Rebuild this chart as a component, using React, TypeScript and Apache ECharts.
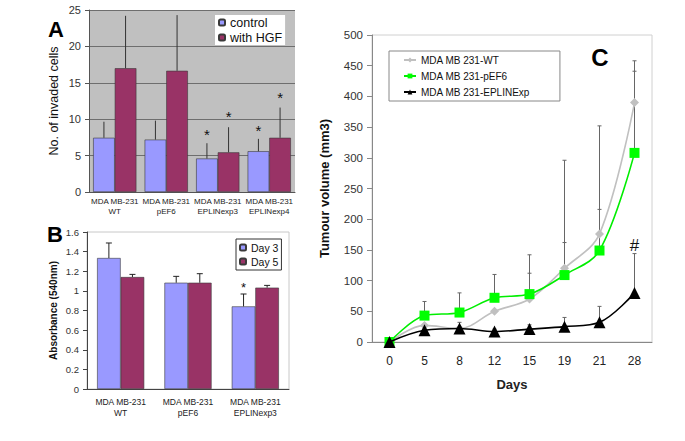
import React, { useEffect, useRef } from "react";
import * as echarts from "echarts";

// ---------- Panel A: invasion ----------
const aCategories = ["MDA MB-231\nWT", "MDA MB-231\npEF6", "MDA MB-231\nEPLINexp3", "MDA MB-231\nEPLINexp4"];
const aControl = [7.45, 7.2, 4.6, 5.6];
const aControlTop = [9.65, 9.8, 6.7, 7.3];
const aHGF = [17.0, 16.65, 5.45, 7.45];
const aHGFTop = [24.2, 24.3, 8.9, 11.6];
const aControlMarks = ["", "", "*", "*"];
const aHGFMarks = ["", "", "*", "*"];

// ---------- Panel B: absorbance ----------
const bCategories = ["MDA MB-231\nWT", "MDA MB-231\npEF6", "MDA MB-231\nEPLINexp3"];
const bDay3 = [1.335, 1.083, 0.842];
const bDay3Top = [1.488, 1.148, 0.968];
const bDay5 = [1.141, 1.083, 1.033];
const bDay5Top = [1.168, 1.175, 1.056];
const bDay3Marks = ["", "", "*"];

// ---------- Panel C: tumour volume ----------
const cDays = ["0", "5", "8", "12", "15", "19", "21", "28"];
const cWT = [0, 27, 22, 50, 70, 120, 176, 390];
const cWTTop = [null, null, null, null, 142, 296, 352, 458];
const cPEF6 = [0, 43, 48, 72, 78, 109, 149, 308];
const cPEF6Top = [null, 66, 80, 110, 112, 162, 216, 441];
const cEPLIN = [0, 19, 22, 17, 21, 25, 32, 80];
const cEPLINTop = [null, 26, 32, 21, 28, 40, 58, 144];
const cEPLINMarks = ["", "", "", "", "", "", "", "#"];

const FONT = "'Liberation Sans', Arial, sans-serif";

function errorBars(
  xi: number,
  yi: number,
  means: number[],
  tops: (number | null)[],
  offset: number,
  cap: number,
  color: string,
  marks: string[] | null,
  markSize: number,
  markGap: number
) {
  const data: number[][] = [];
  means.forEach((m, i) => {
    const t = tops[i];
    if (t !== null && t !== undefined) data.push([i, m, t]);
  });
  return {
    type: "custom",
    xAxisIndex: xi,
    yAxisIndex: yi,
    z: 5,
    silent: true,
    encode: { x: 0, y: [1, 2] },
    data,
    renderItem: (params: any, api: any) => {
      const i = api.value(0);
      const base = api.coord([i, api.value(1)]);
      const top = api.coord([i, api.value(2)]);
      const bw = api.size([1, 0])[0];
      const x = base[0] + offset * bw;
      const children: any[] = [
        {
          type: "line",
          shape: { x1: x, y1: base[1], x2: x, y2: top[1] },
          style: { stroke: color, lineWidth: 1 },
        },
      ];
      if (cap > 0) {
        children.push({
          type: "line",
          shape: { x1: x - cap, y1: top[1], x2: x + cap, y2: top[1] },
          style: { stroke: color, lineWidth: 1 },
        });
      }
      const mk = marks ? marks[i] : "";
      if (mk) {
        children.push({
          type: "text",
          style: {
            text: mk,
            x,
            y: top[1] - markGap,
            align: "center",
            verticalAlign: "bottom",
            fontSize: markSize,
            fontFamily: FONT,
            fill: "#111",
          },
        });
      }
      return { type: "group", children };
    },
  };
}

export default function App() {
  const ref = useRef<HTMLDivElement>(null);
  useEffect(() => {
    if (!ref.current) return;
    const chart = echarts.init(ref.current, undefined, { renderer: "svg" });
    const barBorder = { borderColor: "#3a3a3a", borderWidth: 0.6 };
    const option: any = {
      animation: false,
      backgroundColor: "#ffffff",
      textStyle: { fontFamily: FONT },
      grid: [
        { left: 89, top: 10, width: 206, height: 182, show: true, backgroundColor: "#c0c0c0", borderWidth: 0 },
        { left: 87, top: 232, width: 202, height: 157, show: true, borderColor: "#c8c8c8", borderWidth: 1 },
        { left: 372, top: 35, width: 280, height: 307, show: true, borderColor: "#d0d0d0", borderWidth: 1 },
      ],
      legend: [
        {
          data: ["control", "with HGF"],
          orient: "vertical",
          left: 215,
          top: 15,
          padding: [1, 3],
          itemGap: 2,
          itemWidth: 6,
          itemHeight: 6,
          backgroundColor: "#ffffff",
          textStyle: { fontSize: 12.5, color: "#111", fontFamily: FONT },
        },
        {
          data: ["Day 3", "Day 5"],
          orient: "vertical",
          left: 236,
          top: 239,
          padding: [3, 3, 3, 3],
          itemGap: 3,
          itemWidth: 6,
          itemHeight: 6,
          borderColor: "#333",
          borderWidth: 1,
          textStyle: { fontSize: 10.5, color: "#111", fontFamily: FONT },
        },
        {
          data: ["MDA MB 231-WT", "MDA MB 231-pEF6", "MDA MB 231-EPLINExp"],
          orient: "vertical",
          left: 389,
          top: 51,
          padding: [4, 30, 4, 14],
          itemGap: 6,
          itemWidth: 12,
          itemHeight: 6,
          borderColor: "#888",
          borderWidth: 1,
          textStyle: { fontSize: 10, color: "#111", fontFamily: FONT },
        },
      ],
      xAxis: [
        {
          type: "category",
          gridIndex: 0,
          data: aCategories,
          axisLine: { lineStyle: { color: "#555" } },
          axisTick: { length: 4, lineStyle: { color: "#555" } },
          axisLabel: { interval: 0, fontSize: 8, lineHeight: 9.5, margin: 5, color: "#222", fontFamily: FONT },
        },
        {
          type: "category",
          gridIndex: 1,
          data: bCategories,
          axisLine: { lineStyle: { color: "#444" } },
          axisTick: { length: 4, lineStyle: { color: "#444" } },
          axisLabel: { interval: 0, fontSize: 8.5, lineHeight: 10.5, margin: 8, color: "#222", fontFamily: FONT },
        },
        {
          type: "category",
          gridIndex: 2,
          data: cDays,
          name: "Days",
          nameLocation: "middle",
          nameGap: 36,
          nameTextStyle: { fontSize: 13, fontWeight: "bold", color: "#222" },
          axisLine: { lineStyle: { color: "#888" } },
          axisTick: { length: 5, lineStyle: { color: "#888" } },
          axisLabel: { interval: 0, fontSize: 12, margin: 13, color: "#222" },
        },
      ],
      yAxis: [
        {
          type: "value",
          gridIndex: 0,
          min: 0,
          max: 25,
          interval: 5,
          name: "No. of invaded cells",
          nameLocation: "middle",
          nameGap: 29,
          nameTextStyle: { fontSize: 12.5, color: "#111" },
          axisLine: { show: true, lineStyle: { color: "#555" } },
          axisTick: { show: true, length: 4, lineStyle: { color: "#555" } },
          splitLine: { lineStyle: { color: "#6e6e6e", width: 1 } },
          axisLabel: { fontSize: 11, color: "#333", margin: 8 },
        },
        {
          type: "value",
          gridIndex: 1,
          min: 0,
          max: 1.6,
          interval: 0.2,
          name: "Absorbance (540nm)",
          nameLocation: "middle",
          nameGap: 29,
          nameTextStyle: { fontSize: 10, fontWeight: "bold", color: "#111" },
          axisLine: { show: true, lineStyle: { color: "#444" } },
          axisTick: { show: true, length: 4, lineStyle: { color: "#444" } },
          splitLine: { show: false },
          axisLabel: { fontSize: 9.5, color: "#333", margin: 8 },
        },
        {
          type: "value",
          gridIndex: 2,
          min: 0,
          max: 500,
          interval: 50,
          name: "Tumour volume (mm3)",
          nameLocation: "middle",
          nameGap: 41,
          nameTextStyle: { fontSize: 13, fontWeight: "bold", color: "#111" },
          axisLine: { show: true, lineStyle: { color: "#888" } },
          axisTick: { show: true, length: 5, lineStyle: { color: "#888" } },
          splitLine: { show: false },
          axisLabel: { fontSize: 11.5, color: "#333", margin: 9 },
        },
      ],
      series: [
        {
          name: "control",
          type: "bar",
          xAxisIndex: 0,
          yAxisIndex: 0,
          data: aControl,
          barGap: "0%",
          barCategoryGap: "16%",
          itemStyle: { color: "#9999ff", ...barBorder },
        },
        {
          name: "with HGF",
          type: "bar",
          xAxisIndex: 0,
          yAxisIndex: 0,
          data: aHGF,
          barGap: "0%",
          barCategoryGap: "16%",
          itemStyle: { color: "#993366", ...barBorder },
        },
        errorBars(0, 0, aControl, aControlTop, -0.21, 0, "#333", aControlMarks, 15, 1),
        errorBars(0, 0, aHGF, aHGFTop, 0.21, 0, "#333", aHGFMarks, 15, 3),
        {
          name: "Day 3",
          type: "bar",
          xAxisIndex: 1,
          yAxisIndex: 1,
          data: bDay3,
          barGap: "0%",
          barCategoryGap: "30%",
          itemStyle: { color: "#9999ff", ...barBorder },
        },
        {
          name: "Day 5",
          type: "bar",
          xAxisIndex: 1,
          yAxisIndex: 1,
          data: bDay5,
          barGap: "0%",
          barCategoryGap: "30%",
          itemStyle: { color: "#993366", ...barBorder },
        },
        errorBars(1, 1, bDay3, bDay3Top, -0.175, 3, "#222", bDay3Marks, 13, 0),
        errorBars(1, 1, bDay5, bDay5Top, 0.175, 3, "#222", null, 12, 0),
        {
          ...errorBars(2, 2, cWT, cWTTop, 0, 2, "#666", null, 14, 0),
          z: 1,
        },
        {
          ...errorBars(2, 2, cPEF6, cPEF6Top, 0, 2, "#666", null, 14, 0),
          z: 1,
        },
        {
          ...errorBars(2, 2, cEPLIN, cEPLINTop, 0, 2, "#666", cEPLINMarks, 17, 0),
          z: 1,
        },
        {
          name: "MDA MB 231-WT",
          type: "line",
          xAxisIndex: 2,
          yAxisIndex: 2,
          data: cWT,
          smooth: 0.35,
          symbol: "diamond",
          symbolSize: 9,
          lineStyle: { color: "#c0c0c0", width: 1.6 },
          itemStyle: { color: "#c0c0c0" },
          z: 3,
        },
        {
          name: "MDA MB 231-pEF6",
          type: "line",
          xAxisIndex: 2,
          yAxisIndex: 2,
          data: cPEF6,
          smooth: 0.35,
          symbol: "rect",
          symbolSize: 10,
          lineStyle: { color: "#00ee00", width: 1.6 },
          itemStyle: { color: "#00ff00" },
          z: 4,
        },
        {
          name: "MDA MB 231-EPLINExp",
          type: "line",
          xAxisIndex: 2,
          yAxisIndex: 2,
          data: cEPLIN,
          smooth: 0.35,
          symbol: "triangle",
          symbolSize: 12,
          lineStyle: { color: "#000000", width: 1.6 },
          itemStyle: { color: "#000000" },
          z: 5,
        },
      ],
      graphic: [
        {
          type: "text",
          x: 56,
          y: 29,
          style: { text: "A", fontSize: 22, fontWeight: "bold", fontFamily: FONT, fill: "#000", align: "center", verticalAlign: "middle" },
        },
        {
          type: "text",
          x: 55,
          y: 234,
          style: { text: "B", fontSize: 22, fontWeight: "bold", fontFamily: FONT, fill: "#000", align: "center", verticalAlign: "middle" },
        },
        {
          type: "text",
          x: 600,
          y: 57,
          style: { text: "C", fontSize: 24, fontWeight: "bold", fontFamily: FONT, fill: "#000", align: "center", verticalAlign: "middle" },
        },
      ],
    };
    chart.setOption(option);
    return () => chart.dispose();
  }, []);
  return (
    <div
      ref={ref}
      style={{ position: "absolute", left: 0, top: 0, width: 685, height: 441 }}
    />
  );
}
